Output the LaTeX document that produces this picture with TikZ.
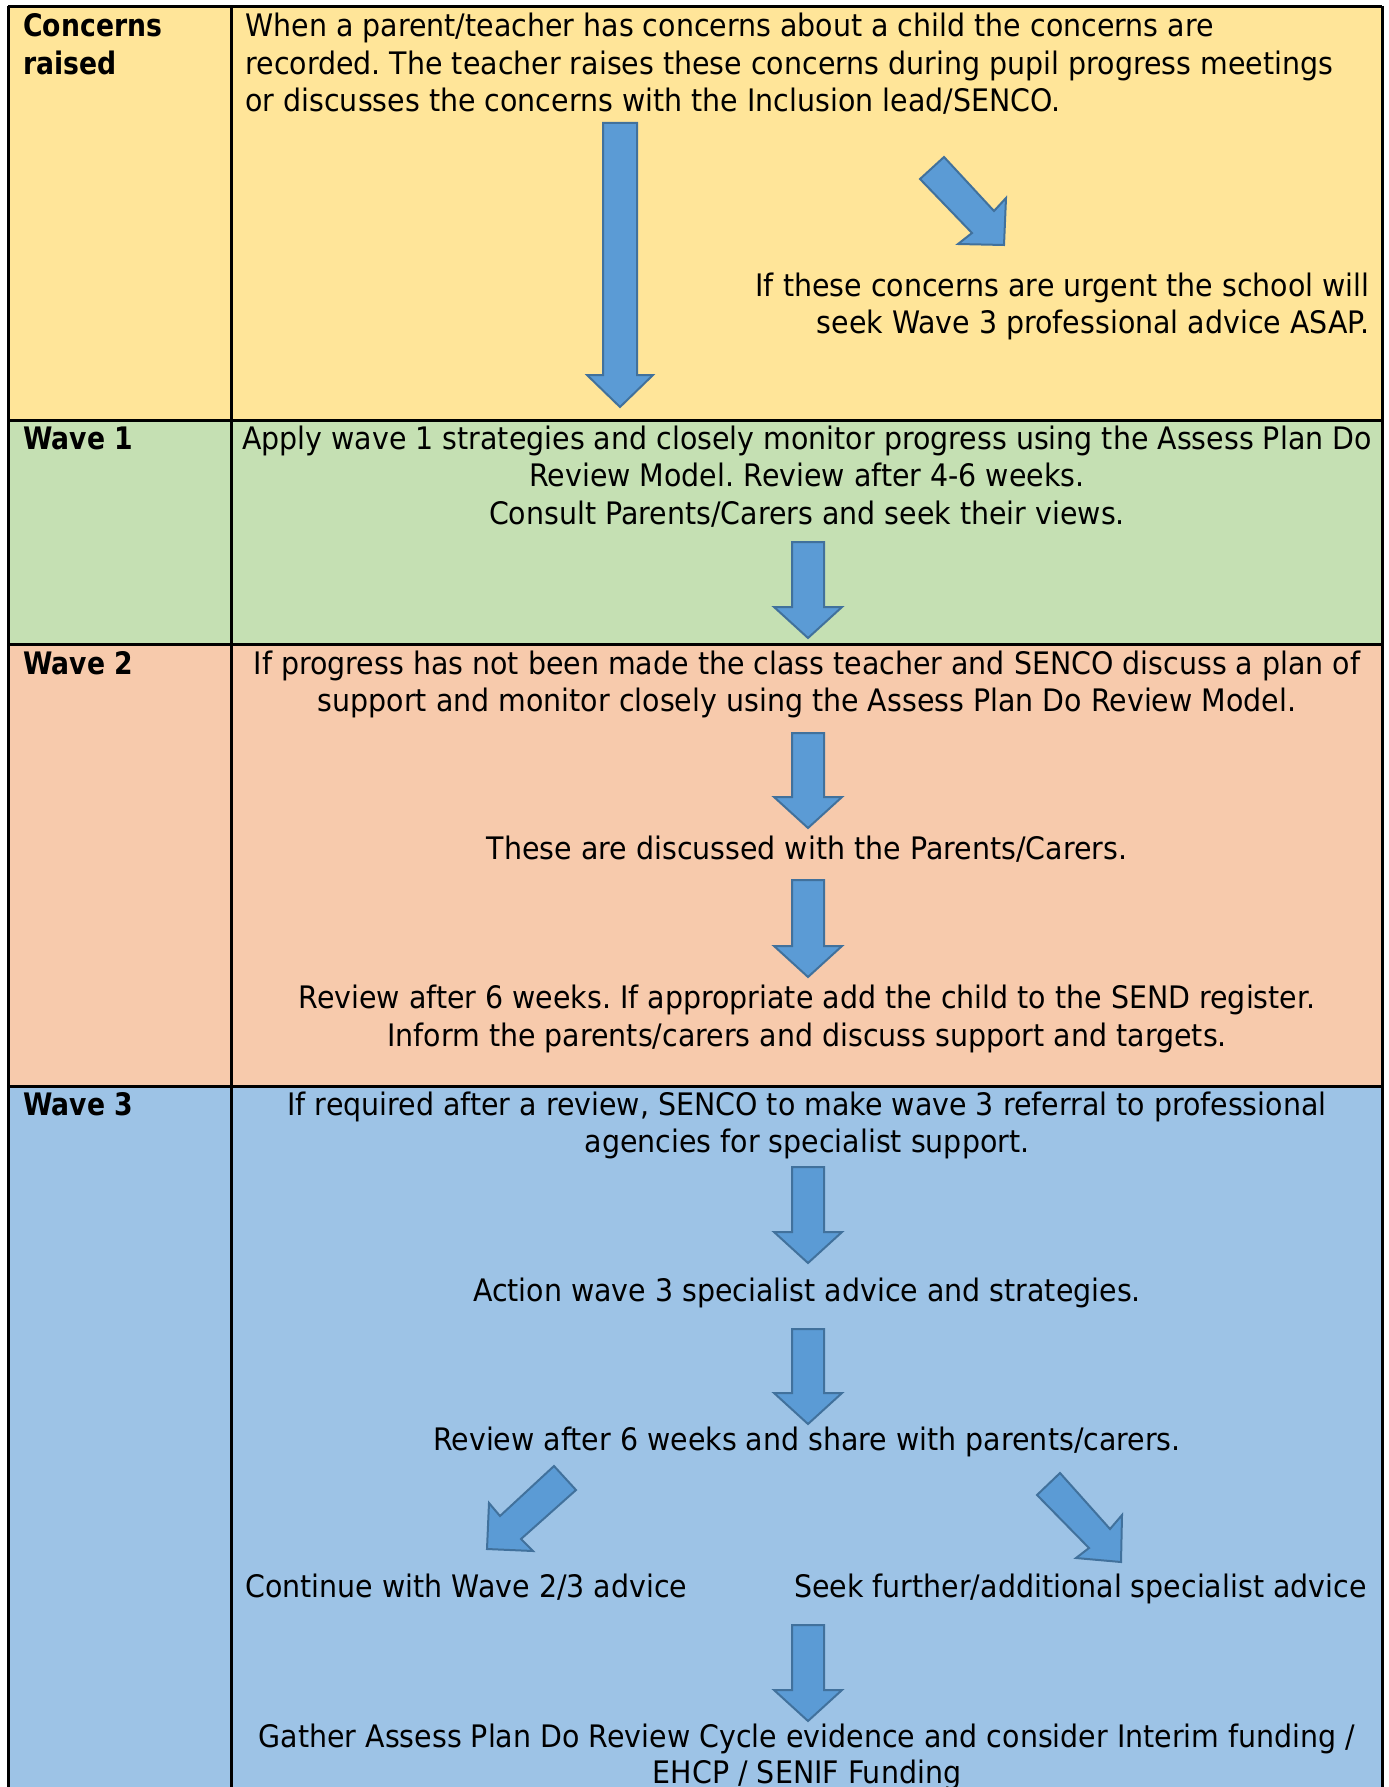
\documentclass[tikz,border=0pt]{standalone}
\usepackage{fontspec}
\setmainfont{DejaVu Sans}[FakeStretch=0.918,BoldFeatures={FakeStretch=0.86}]
\frenchspacing
\definecolor{cyel}{HTML}{FFE599}
\definecolor{cgrn}{HTML}{C5E0B3}
\definecolor{corg}{HTML}{F7CAAC}
\definecolor{cblu}{HTML}{9DC3E6}
\definecolor{afill}{HTML}{5B9BD5}
\definecolor{aline}{HTML}{41719C}
\tikzset{
  barrow/.style={fill=afill,draw=aline,line width=1pt,line join=miter},
  grid/.style={draw=black,line width=1.5pt},
  txt/.style={inner sep=0pt,font=\fontsize{15.5}{18.75}\selectfont},
  lab/.style={txt,font=\fontsize{15.5}{18.75}\selectfont\bfseries},
}
\newcommand\blockdown[4]{% x center, top, tip, name
  \draw[barrow] (#1-16,#2) -- (#1+16,#2) -- (#1+16,#3-31) -- (#1+34,#3-31) -- (#1,#3) -- (#1-34,#3-31) -- (#1-16,#3-31) -- cycle;
  \coordinate (#4) at (#1,#3);}
\begin{document}
\begin{tikzpicture}[x=0.5pt,y=-0.5pt]
\useasboundingbox (0,0) rectangle (1388,1787);
\clip (0,0) rectangle (1388,1787);
\fill[white] (0,0) rectangle (1388,1787);
% row fills
\fill[cyel] (8,7) rectangle (1382,420);
\fill[cgrn] (8,420) rectangle (1382,644);
\fill[corg] (8,644) rectangle (1382,1086);
\fill[cblu] (8,1086) rectangle (1382,1800);
% grid
\draw[grid] (8,7) -- (1382,7);
\draw[grid] (8,420) -- (1382,420);
\draw[grid] (8,644) -- (1382,644);
\draw[grid] (8,1086) -- (1382,1086);
\draw[grid] (8,6) -- (8,1800);
\draw[grid] (231,6) -- (231,1800);
\draw[grid] (1382,6) -- (1382,1800);
% labels
\node[lab,anchor=mid west] (l1a) at (23,31) {Concerns};
\node[lab,anchor=mid west] (l1b) at (23,69) {raised};
\node[lab,anchor=mid west] (l2) at (23,444) {Wave 1};
\node[lab,anchor=mid west] (l3) at (23,669) {Wave 2};
\node[lab,anchor=mid west] (l4) at (23,1110) {Wave 3};
% row 1
\node[txt,anchor=mid west] (t1a) at (245,31) {When a parent/teacher has concerns about a child the concerns are};
\node[txt,anchor=mid west] (t1b) at (245,69) {recorded. The teacher raises these concerns during pupil progress meetings};
\node[txt,anchor=mid west] (t1c) at (245,106) {or discusses the concerns with the Inclusion lead/SENCO.};
\node[txt,anchor=mid east] (u1) at (1370,291) {If these concerns are urgent the school will};
\node[txt,anchor=mid east] (u2) at (1370,328) {seek Wave 3 professional advice ASAP.};
\draw[barrow] (603,123) -- (637,123) -- (637,375) -- (653,375) -- (620,407) -- (587,375) -- (603,375) -- cycle;
\draw[barrow] (920,179) -- (944,157) -- (994,211) -- (1006,198) -- (1004,245) -- (958,244) -- (972,233) -- cycle;
% row 2
\node[txt,anchor=mid] (w1a) at (807,444) {Apply wave 1 strategies and closely monitor progress using the Assess Plan Do};
\node[txt,anchor=mid] (w1b) at (807,481) {Review Model. Review after 4-6 weeks.};
\node[txt,anchor=mid] (w1c) at (807,519) {Consult Parents/Carers and seek their views.};
\blockdown{808}{542}{638}{a1}
% row 3
\node[txt,anchor=mid] (w2a) at (807,669) {If progress has not been made the class teacher and SENCO discuss a plan of};
\node[txt,anchor=mid] (w2b) at (807,706) {support and monitor closely using the Assess Plan Do Review Model.};
\blockdown{808}{733}{828}{a2}
\node[txt,anchor=mid] (w2c) at (807,854) {These are discussed with the Parents/Carers.};
\blockdown{808}{880}{977}{a3}
\node[txt,anchor=mid] (w2d) at (807,1003) {Review after 6 weeks. If appropriate add the child to the SEND register.};
\node[txt,anchor=mid] (w2e) at (807,1041) {Inform the parents/carers and discuss support and targets.};
% row 4
\node[txt,anchor=mid] (w3a) at (807,1110) {If required after a review, SENCO to make wave 3 referral to professional};
\node[txt,anchor=mid] (w3b) at (807,1147) {agencies for specialist support.};
\blockdown{808}{1167}{1263}{a4}
\node[txt,anchor=mid] (w3c) at (807,1296) {Action wave 3 specialist advice and strategies.};
\blockdown{808}{1329}{1424}{a5}
\node[txt,anchor=mid] (w3d) at (807,1445) {Review after 6 weeks and share with parents/carers.};
\draw[barrow] (554,1466) -- (576,1490) -- (521,1539) -- (533,1551) -- (487,1549) -- (489,1503) -- (500,1516) -- cycle;
\draw[barrow] (1060,1473) -- (1037,1495) -- (1089,1548) -- (1076,1558) -- (1121,1562) -- (1122,1515) -- (1110,1529) -- cycle;
\node[txt,anchor=mid west] (w3e) at (245,1592) {Continue with Wave 2/3 advice};
\node[txt,anchor=mid east] (w3f) at (1367,1592) {Seek further/additional specialist advice};
\blockdown{808}{1625}{1721}{a6}
\node[txt,anchor=mid] (w3g) at (807,1742) {Gather Assess Plan Do Review Cycle evidence and consider Interim funding /};
\node[txt,anchor=mid] (w3h) at (807,1778) {EHCP / SENIF Funding};
\end{tikzpicture}
\end{document}
